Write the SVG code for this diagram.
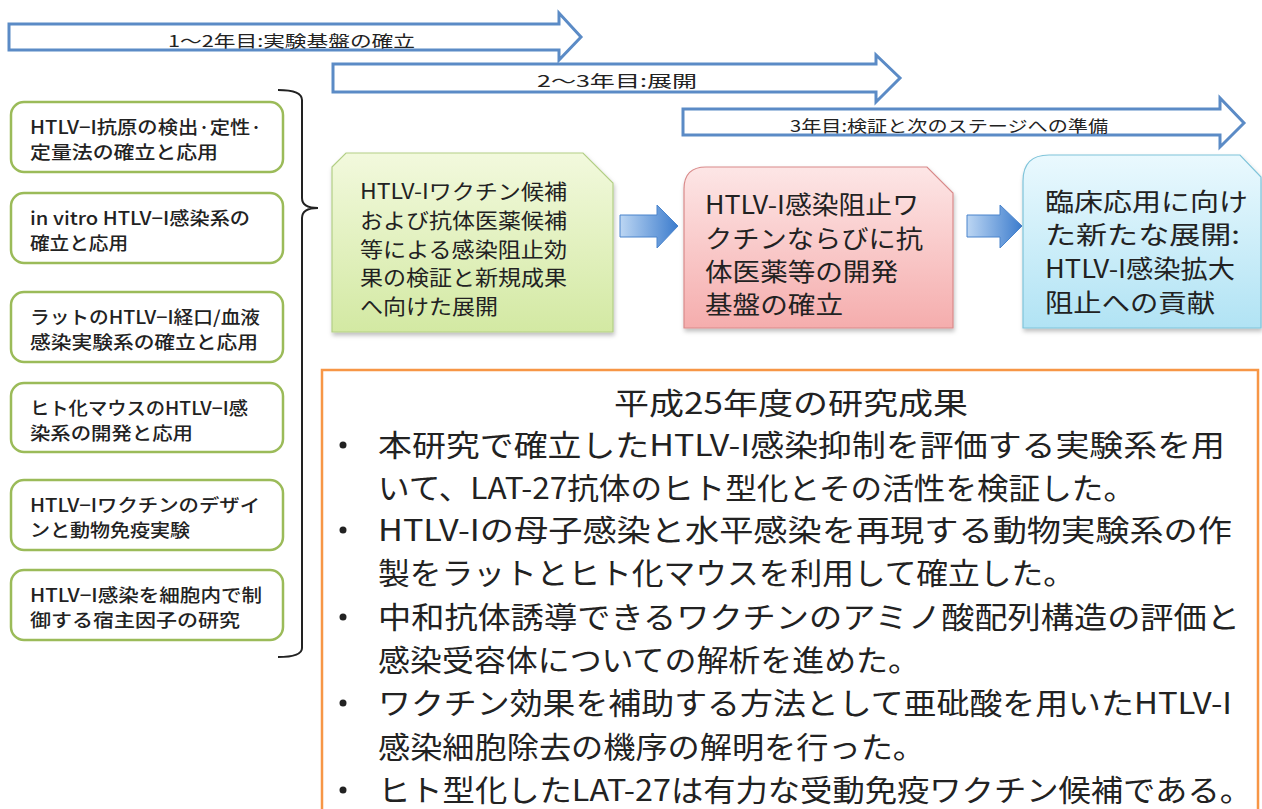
<svg xmlns="http://www.w3.org/2000/svg" width="1262" height="809" viewBox="0 0 1262 809">
<defs>
<style>
.jp{font-family:"Noto Sans CJK JP","Noto Sans",sans-serif;fill:#222}
.bar{fill:#fff;stroke:#5b8bc6;stroke-width:3;stroke-linejoin:miter}
.bt{font-size:16px}
.lbox{fill:#fff;stroke:#9bbb59;stroke-width:2.5}
.lt{font-size:18px;font-weight:500}
.big{font-size:30px}
</style>
<linearGradient id="gG" x1="0" y1="0" x2="0" y2="1"><stop offset="0" stop-color="#f2f9dd"/><stop offset="1" stop-color="#d3e9a3"/></linearGradient>
<linearGradient id="gP" x1="0" y1="0" x2="0" y2="1"><stop offset="0" stop-color="#fde6e6"/><stop offset="1" stop-color="#f5adad"/></linearGradient>
<linearGradient id="gC" x1="0" y1="0" x2="0" y2="1"><stop offset="0" stop-color="#eaf9fe"/><stop offset="1" stop-color="#b1e3f4"/></linearGradient>
<linearGradient id="gA" x1="0" y1="0" x2="1" y2="0"><stop offset="0" stop-color="#bcd6f3"/><stop offset="1" stop-color="#3c7ccd"/></linearGradient>
<filter id="sh" x="-5%" y="-5%" width="112%" height="115%"><feDropShadow dx="1" dy="3" stdDeviation="2" flood-color="#000" flood-opacity="0.25"/></filter>
</defs>
<rect width="1262" height="809" fill="#fff"/>

<g id="phase1">
<path class="bar" d="M9,24 L559,24 L559,13 L581,37 L559,60 L559,50 L9,50 Z"/>
<text class="jp bt" x="168" y="47" textLength="247" lengthAdjust="spacingAndGlyphs">1～2年目:実験基盤の確立</text>
</g>
<g id="phase2">
<path class="bar" d="M333,64 L876,64 L876,55 L900,78 L876,102 L876,92 L333,92 Z"/>
<text class="jp bt" x="537" y="87" textLength="160" lengthAdjust="spacingAndGlyphs">2～3年目:展開</text>
</g>
<g id="phase3">
<path class="bar" d="M683,109 L1220,109 L1220,98 L1244,123 L1220,147 L1220,135 L683,135 Z"/>
<text class="jp bt" x="790" y="132" textLength="318" lengthAdjust="spacingAndGlyphs">3年目:検証と次のステージへの準備</text>
</g>

<g id="item1">
<rect class="lbox" x="11" y="102" width="272" height="70" rx="13"/>
<text class="jp lt" x="30" y="134" textLength="232" lengthAdjust="spacingAndGlyphs">HTLV−I抗原の検出·定性·</text>
<text class="jp lt" x="30" y="159" textLength="188" lengthAdjust="spacingAndGlyphs">定量法の確立と応用</text>
</g>
<g id="item2">
<rect class="lbox" x="11" y="193" width="272" height="70" rx="13"/>
<text class="jp lt" x="30" y="225" textLength="220" lengthAdjust="spacingAndGlyphs">in vitro HTLV−I感染系の</text>
<text class="jp lt" x="30" y="250" textLength="98" lengthAdjust="spacingAndGlyphs">確立と応用</text>
</g>
<g id="item3">
<rect class="lbox" x="11" y="292" width="272" height="70" rx="13"/>
<text class="jp lt" x="30" y="324" textLength="230" lengthAdjust="spacingAndGlyphs">ラットのHTLV−I経口/血液</text>
<text class="jp lt" x="30" y="349" textLength="228" lengthAdjust="spacingAndGlyphs">感染実験系の確立と応用</text>
</g>
<g id="item4">
<rect class="lbox" x="11" y="383" width="272" height="69" rx="13"/>
<text class="jp lt" x="30" y="415" textLength="218" lengthAdjust="spacingAndGlyphs">ヒト化マウスのHTLV−I感</text>
<text class="jp lt" x="30" y="440" textLength="163" lengthAdjust="spacingAndGlyphs">染系の開発と応用</text>
</g>
<g id="item5">
<rect class="lbox" x="11" y="480" width="272" height="70" rx="13"/>
<text class="jp lt" x="30" y="512" textLength="230" lengthAdjust="spacingAndGlyphs">HTLV−Iワクチンのデザイ</text>
<text class="jp lt" x="30" y="537" textLength="160" lengthAdjust="spacingAndGlyphs">ンと動物免疫実験</text>
</g>
<g id="item6">
<rect class="lbox" x="11" y="570" width="272" height="70" rx="13"/>
<text class="jp lt" x="30" y="602" textLength="232" lengthAdjust="spacingAndGlyphs">HTLV−I感染を細胞内で制</text>
<text class="jp lt" x="30" y="627" textLength="210" lengthAdjust="spacingAndGlyphs">御する宿主因子の研究</text>
</g>

<g id="connectors">
<path d="M278,90 Q302,90 302,100 L302,198 Q302,208 318,208 Q302,208 302,218 L302,648 Q302,657 278,657" fill="none" stroke="#222" stroke-width="2"/>
<path d="M620,215 L657,215 L657,205 L678,226 L657,248 L657,237 L620,237 Z" fill="url(#gA)" stroke="#4a84cc" stroke-width="1"/>
<path d="M967,215 L1000,215 L1000,205 L1022,226 L1000,248 L1000,237 L967,237 Z" fill="url(#gA)" stroke="#4a84cc" stroke-width="1"/>
</g>

<g id="stage1">
<path d="M332,167 L346,153 L583,153 L613,183 L613,332 L332,332 Z" fill="url(#gG)" stroke="#b3cf86" stroke-width="1.2" filter="url(#sh)"/>
<text class="jp" font-size="21" x="360" y="199" textLength="207" lengthAdjust="spacingAndGlyphs">HTLV-Iワクチン候補</text>
<text class="jp" font-size="21" x="360" y="228" textLength="207" lengthAdjust="spacingAndGlyphs">および抗体医薬候補</text>
<text class="jp" font-size="21" x="360" y="257" textLength="207" lengthAdjust="spacingAndGlyphs">等による感染阻止効</text>
<text class="jp" font-size="21" x="360" y="285" textLength="207" lengthAdjust="spacingAndGlyphs">果の検証と新規成果</text>
<text class="jp" font-size="21" x="360" y="314" textLength="138" lengthAdjust="spacingAndGlyphs">へ向けた展開</text>
</g>
<g id="stage2">
<path d="M684,189 Q684,167 706,167 L927,167 L953,193 L953,328 L684,328 Z" fill="url(#gP)" stroke="#d98a8a" stroke-width="1.2" filter="url(#sh)"/>
<text class="jp" font-size="25" x="705" y="214" textLength="214" lengthAdjust="spacingAndGlyphs">HTLV-I感染阻止ワ</text>
<text class="jp" font-size="25" x="705" y="248" textLength="218" lengthAdjust="spacingAndGlyphs">クチンならびに抗</text>
<text class="jp" font-size="25" x="705" y="281" textLength="193" lengthAdjust="spacingAndGlyphs">体医薬等の開発</text>
<text class="jp" font-size="25" x="705" y="314" textLength="138" lengthAdjust="spacingAndGlyphs">基盤の確立</text>
</g>
<g id="stage3">
<path d="M1023,181 Q1023,155 1049,155 L1240,155 L1261,177 L1261,328 L1023,328 Z" fill="url(#gC)" stroke="#7fc4da" stroke-width="1.2" filter="url(#sh)"/>
<text class="jp" font-size="25" x="1045" y="211" textLength="203" lengthAdjust="spacingAndGlyphs">臨床応用に向け</text>
<text class="jp" font-size="25" x="1045" y="244" textLength="195" lengthAdjust="spacingAndGlyphs">た新たな展開:</text>
<text class="jp" font-size="25" x="1045" y="278" textLength="190" lengthAdjust="spacingAndGlyphs">HTLV-I感染拡大</text>
<text class="jp" font-size="25" x="1045" y="312" textLength="170" lengthAdjust="spacingAndGlyphs">阻止への貢献</text>
</g>

<g id="results">
<rect x="322" y="370" width="936" height="460" fill="#fff" stroke="#f79646" stroke-width="2.5"/>
<text class="jp" font-size="30" x="614" y="414" textLength="354" lengthAdjust="spacingAndGlyphs">平成25年度の研究成果</text>
<g fill="#222">
<circle cx="343" cy="445" r="3.5"/>
<circle cx="343" cy="530" r="3.5"/>
<circle cx="343" cy="617" r="3.5"/>
<circle cx="343" cy="703" r="3.5"/>
<circle cx="343" cy="790" r="3.5"/>
</g>
<text class="jp big" x="378" y="456" textLength="847" lengthAdjust="spacingAndGlyphs">本研究で確立したHTLV-I感染抑制を評価する実験系を用</text>
<text class="jp big" x="378" y="499" textLength="757" lengthAdjust="spacingAndGlyphs">いて、LAT-27抗体のヒト型化とその活性を検証した。</text>
<text class="jp big" x="378" y="541" textLength="854" lengthAdjust="spacingAndGlyphs">HTLV-Iの母子感染と水平感染を再現する動物実験系の作</text>
<text class="jp big" x="378" y="584" textLength="697" lengthAdjust="spacingAndGlyphs">製をラットとヒト化マウスを利用して確立した。</text>
<text class="jp big" x="378" y="628" textLength="862" lengthAdjust="spacingAndGlyphs">中和抗体誘導できるワクチンのアミノ酸配列構造の評価と</text>
<text class="jp big" x="378" y="671" textLength="542" lengthAdjust="spacingAndGlyphs">感染受容体についての解析を進めた。</text>
<text class="jp big" x="378" y="714" textLength="854" lengthAdjust="spacingAndGlyphs">ワクチン効果を補助する方法として亜砒酸を用いたHTLV-I</text>
<text class="jp big" x="378" y="758" textLength="547" lengthAdjust="spacingAndGlyphs">感染細胞除去の機序の解明を行った。</text>
<text class="jp big" x="378" y="801" textLength="874" lengthAdjust="spacingAndGlyphs">ヒト型化したLAT-27は有力な受動免疫ワクチン候補である。</text>
</g>
</svg>
